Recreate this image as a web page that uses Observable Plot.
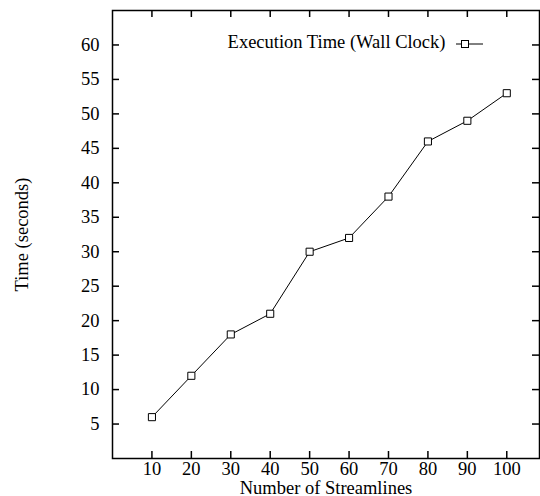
<!DOCTYPE html>
<html><head><meta charset="utf-8">
<script src="https://cdn.jsdelivr.net/npm/d3@7"></script>
<script src="https://cdn.jsdelivr.net/npm/@observablehq/plot@0.6"></script>
<style>body{margin:0;background:#fff}</style>
</head><body><div id="chart"></div>
<script>
const streamlines = [10, 20, 30, 40, 50, 60, 70, 80, 90, 100];
const seconds = [6, 12, 18, 21, 30, 32, 38, 46, 49, 53];
const xTicks = [10, 20, 30, 40, 50, 60, 70, 80, 90, 100];
const yTicks = [5, 10, 15, 20, 25, 30, 35, 40, 45, 50, 55, 60];
const seriesName = "Execution Time (Wall Clock)";
const data = streamlines.map((s, i) => ({s, t: seconds[i]}));

const W = 540, H = 496, mt = 10, mb = 38, ml = 112, mr = 1;
const fh = H - mt - mb, fw = W - ml - mr;
const xMax = 108.3, yMax = 65;
const font = "Liberation Serif, Times New Roman, serif";
const fs = 18.5;
const TL = 7; // tick length in px (inward)

const chart = Plot.plot({
  width: W, height: H,
  marginTop: mt, marginBottom: mb, marginLeft: ml, marginRight: mr,
  style: {fontFamily: font, fontSize: fs + "px", color: "#000", background: "#fff"},
  x: {domain: [0, xMax]},
  y: {domain: [0, yMax]},
  marks: [
    Plot.axisX(xTicks, {tickSize: 0, tickPadding: 3, fontSize: fs, label: "Number of Streamlines", labelAnchor: "center", labelOffset: 35, labelArrow: "none"}),
    Plot.axisY(yTicks, {tickSize: 0, tickPadding: 13, fontSize: fs, label: "Time (seconds)", labelAnchor: "center", labelOffset: 98, labelArrow: "none"}),
    Plot.tickX(xTicks, {x: d => d, insetTop: fh - TL, stroke: "#000", strokeWidth: 1.5}),
    Plot.tickX(xTicks, {x: d => d, insetBottom: fh - TL, stroke: "#000", strokeWidth: 1.5}),
    Plot.tickY(yTicks, {y: d => d, insetRight: fw - TL, stroke: "#000", strokeWidth: 1.5}),
    Plot.tickY(yTicks, {y: d => d, insetLeft: fw - TL, stroke: "#000", strokeWidth: 1.5}),
    Plot.frame({stroke: "#000", strokeWidth: 1.5}),
    Plot.line(data, {x: "s", y: "t", stroke: "#000", strokeWidth: 1}),
    Plot.dot(data, {x: "s", y: "t", symbol: "square", r: 4, stroke: "#000", fill: "#fff", strokeWidth: 1}),
    Plot.text([seriesName], {text: d => d, frameAnchor: "top-right", dx: -(W - 446), dy: 34 - mt, textAnchor: "end", fontSize: fs, fill: "#000"})
  ]
});
document.getElementById("chart").appendChild(chart);

// legend sample
const svg = d3.select(chart);
const g = svg.append("g");
const ly = 44;
g.append("line").attr("x1", 456).attr("x2", 483).attr("y1", ly).attr("y2", ly).attr("stroke", "#000").attr("stroke-width", 1);
g.append("rect").attr("x", 461.5).attr("y", ly - 3.5).attr("width", 7).attr("height", 7).attr("fill", "#fff").attr("stroke", "#000");
</script>
</body></html>
